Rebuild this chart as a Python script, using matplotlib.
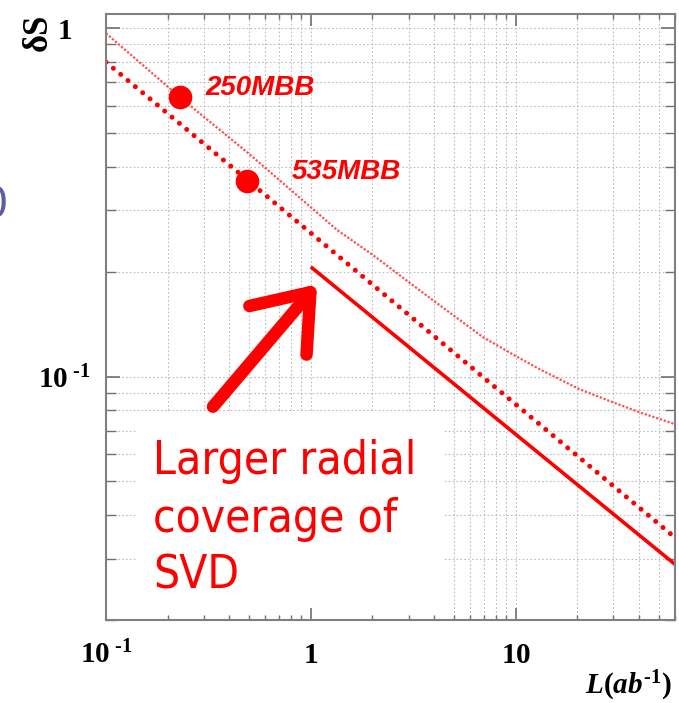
import numpy as np
import matplotlib
matplotlib.use('Agg')
import matplotlib.pyplot as plt
from matplotlib.patches import Rectangle

plt.rcParams['mathtext.fontset'] = 'custom'
plt.rcParams['mathtext.it'] = 'Liberation Serif:italic:bold'
plt.rcParams['mathtext.rm'] = 'Liberation Serif:bold'
plt.rcParams['mathtext.bf'] = 'Liberation Serif:bold'

# values
# upper thin curve (stat + syst)
L_thin = [0.1, 0.23, 0.5, 1.34, 2.0, 3.0, 4.1, 6.9, 10, 13.1, 20.5, 30, 40.3, 60]
dS_thin = [0.968, 0.634, 0.436, 0.264, 0.224, 0.187, 0.163, 0.130, 0.1146,
           0.105, 0.092, 0.0843, 0.079, 0.073]
# dotted line
L_dot = [0.1, 0.49, 60]
dS_dot = [0.80, 0.367, 0.0345]
# solid line, larger SVD
L_svd = [1.0, 10, 60]
dS_svd = [0.2066, 0.0683, 0.0289]
# measured points
L_pts = [0.23, 0.49]
dS_pts = [0.634, 0.365]
pt_labels = ['250MBB', '535MBB']
note_lines = ['Larger radial', 'coverage of', 'SVD']

x_ticks = [0.1, 1, 10]
x_ticklabels = [r'$\mathit{10}^{\mathit{\ ‐1}}$', r'$\mathit{1}$', r'$\mathit{10}$']
y_ticks = [0.1, 1]
y_ticklabels = [r'$\mathit{10}^{\mathit{\ ‐1}}$', r'$\mathit{1}$']

red = '#ff0000'

fig = plt.figure(figsize=(6.79, 7.03), dpi=100)
ax = fig.add_axes([106/679, 83/703, 569/679, 606/703])
ax.set_xscale('log')
ax.set_yscale('log')
ax.set_xlim(0.1, 60)
ax.set_ylim(0.02, 1.1)

ax.set_xticks(x_ticks, labels=x_ticklabels)
ax.set_yticks(y_ticks, labels=y_ticklabels)

# dotted grid on major and minor positions
grid_kw = dict(color='#bdbdbd', lw=0.8, ls=(0, (1.5, 2)), zorder=1)
for xv in list(ax.get_xticks()) + list(ax.xaxis.get_minorticklocs()):
    if 0.1 < xv < 60:
        ax.axvline(xv, **grid_kw)
for yv in list(ax.get_yticks()) + list(ax.yaxis.get_minorticklocs()):
    if 0.02 < yv < 1.1:
        ax.axhline(yv, **grid_kw)

# white text box of the slide covering the grid
ax.add_patch(Rectangle((0.054, 0.0), 0.538, 0.342, transform=ax.transAxes,
                       fc='white', ec='none', zorder=1.2))

ax.plot(L_thin, dS_thin, color='#ff5050', lw=1.6, ls=(0, (1, 0.8)), zorder=2)
ax.plot(L_dot, dS_dot, color=red, lw=3.6, ls=(0, (0.01, 1.9)),
        dash_capstyle='round', zorder=2)
ax.plot(L_svd, dS_svd, color=red, lw=2.6, solid_capstyle='butt', zorder=2)
ax.plot(L_pts, dS_pts, 'o', color=red, ms=16, zorder=3)

offsets = [(18, 7), (32, 6.5)]
for x, y, lab, off in zip(L_pts, dS_pts, pt_labels, offsets):
    ax.annotate(lab, (x, y), xytext=off, textcoords='offset points',
                ha='left', va='center', color=red, fontsize=20,
                family='Liberation Sans', weight='bold', style='italic')

# arrow and comment
ax.annotate('', xy=(0.371, 0.554), xytext=(0.188, 0.352),
            xycoords='axes fraction', textcoords='axes fraction',
            arrowprops=dict(arrowstyle='->,head_length=3.6,head_width=2.7',
                            color=red, lw=9, capstyle='round',
                            joinstyle='round', shrinkA=0, shrinkB=0),
            zorder=4)
for line, yb in zip(note_lines, [0.2409, 0.1452, 0.0512]):
    ax.text(0.083, yb, line, transform=ax.transAxes, color=red, fontsize=33,
            family='DejaVu Sans', fontstretch='condensed',
            ha='left', va='baseline', zorder=4)

for s in ax.spines.values():
    s.set_color('#808080')
    s.set_linewidth(1.5)
    s.set_zorder(2.5)

ax.tick_params(which='both', direction='in', top=True, right=True,
               color='#707070')
ax.tick_params(axis='x', which='major', length=8.5, width=1.2, pad=15)
ax.tick_params(axis='x', which='minor', length=3.6, width=1.0)
ax.tick_params(axis='y', which='major', length=10, width=1.2, pad=30)
ax.tick_params(axis='y', which='minor', length=7, width=1.0)
ax.tick_params(which='both', labelsize=21)
for lab in ax.get_yticklabels():
    lab.set_ha('center')

ax.text(0.995, -0.122, r'$\mathit{L(ab^{‐1})}$', transform=ax.transAxes,
        ha='right', va='baseline', fontsize=21)
ax.text(-0.1195, 0.97, 'δS', transform=ax.transAxes, rotation=90,
        ha='center', va='center', fontsize=25, family='Liberation Serif',
        weight='bold')

# piece of slide text cut at the left border
fig.text(8/679, 1 - 206/703, '0', ha='right', va='center', fontsize=30,
         color='#5c5ca8', family='DejaVu Sans')

fig.savefig('out.png', dpi=100)
